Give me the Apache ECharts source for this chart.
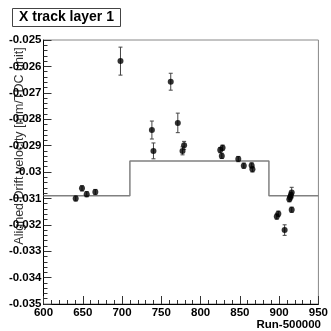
<!DOCTYPE html>
<html>
<head>
<meta charset="utf-8">
<script src="https://cdn.jsdelivr.net/npm/echarts@6/dist/echarts.min.js"></script>
<style>
  html, body { margin: 0; padding: 0; background: #fff; }
  #chart { width: 331px; height: 331px; }
</style>
</head>
<body>
<div id="chart"></div>
<script>
// run number minus 500000
const runs = [641, 649, 655, 666, 698, 738, 740, 762, 771, 777, 779, 825, 828, 827,
  848, 855, 865, 866, 897, 899, 907, 913, 914, 915, 916, 916];
const drift = [-0.03100, -0.03062, -0.03084, -0.03076, -0.02580, -0.02841, -0.02920,
  -0.02658, -0.02814, -0.02920, -0.02899, -0.02917, -0.02908, -0.02939, -0.02951,
  -0.02976, -0.02975, -0.02990, -0.03169, -0.03158, -0.03220, -0.03103, -0.03096,
  -0.03087, -0.03078, -0.03143];
const driftErr = [0.0001, 0.0001, 0.0001, 0.0001, 0.00053, 0.00034, 0.0003, 0.00032,
  0.00037, 0.00015, 0.00015, 0.0001, 0.0001, 0.0001, 0.0001, 0.0001, 0.0001, 0.0001,
  0.0001, 0.0001, 0.0002, 0.0001, 0.0001, 0.0001, 0.0002, 0.0001];

// step reference line
const stepEdges = [600, 710, 887, 950];
const stepLevels = [-0.0309, -0.02958, -0.0309, -0.0309];

const chart = echarts.init(document.getElementById('chart'));

const fmtY = v => String(parseFloat(v.toFixed(4)));

const option = {
  animation: false,
  grid: {
    left: 43.5, right: 10, top: 40, bottom: 27,
    show: true, borderColor: '#888', borderWidth: 1
  },
  xAxis: {
    type: 'value',
    min: 600, max: 950, interval: 50,
    axisLine: { show: true, lineStyle: { color: '#000', width: 1 } },
    axisTick: { show: true, inside: true, length: 8, lineStyle: { color: '#333' } },
    minorTick: { show: true, splitNumber: 5, length: 4, lineStyle: { color: '#333' } },
    splitLine: { show: false },
    axisLabel: {
      color: '#000', fontFamily: 'Liberation Sans', fontWeight: 'bold',
      fontSize: 11.5, margin: 3, showMinLabel: true, showMaxLabel: true
    }
  },
  yAxis: {
    type: 'value',
    min: -0.035, max: -0.025, interval: 0.001,
    axisLine: { show: true, lineStyle: { color: '#000', width: 1 } },
    axisTick: { show: true, inside: true, length: 8, lineStyle: { color: '#333' } },
    minorTick: { show: true, splitNumber: 5, length: 4, lineStyle: { color: '#333' } },
    splitLine: { show: false },
    axisLabel: {
      color: '#000', fontFamily: 'Liberation Sans', fontWeight: 'bold',
      fontSize: 11.5, margin: 2, formatter: fmtY
    }
  },
  series: [
    {
      type: 'line',
      step: 'end',
      data: stepEdges.map((x, i) => [x, stepLevels[i]]),
      symbol: 'none',
      lineStyle: { color: '#808080', width: 1.5 },
      z: 1
    },
    {
      type: 'custom',
      data: runs.map((r, i) => [r, drift[i] - driftErr[i], drift[i] + driftErr[i]]),
      renderItem: (params, api) => {
        const lo = api.coord([api.value(0), api.value(1)]);
        const hi = api.coord([api.value(0), api.value(2)]);
        const st = { stroke: '#444', lineWidth: 1 };
        return {
          type: 'group',
          children: [
            { type: 'line', shape: { x1: lo[0], y1: lo[1], x2: hi[0], y2: hi[1] }, style: st },
            { type: 'line', shape: { x1: lo[0] - 2, y1: lo[1], x2: lo[0] + 2, y2: lo[1] }, style: st },
            { type: 'line', shape: { x1: hi[0] - 2, y1: hi[1], x2: hi[0] + 2, y2: hi[1] }, style: st }
          ]
        };
      },
      z: 2
    },
    {
      type: 'scatter',
      data: runs.map((r, i) => [r, drift[i]]),
      symbol: 'circle',
      symbolSize: 6,
      itemStyle: { color: '#000' },
      z: 3
    }
  ],
  graphic: [
    {
      type: 'rect',
      shape: { x: 12.5, y: 8.5, width: 108, height: 18 },
      style: { fill: '#fff', stroke: '#444', lineWidth: 1 }
    },
    {
      type: 'text',
      x: 66.5, y: 17.5,
      style: {
        text: 'X track layer 1', fill: '#000',
        font: 'bold 14px "Liberation Sans"',
        align: 'center', verticalAlign: 'middle'
      }
    },
    {
      type: 'text',
      x: 20, y: 146,
      rotation: Math.PI / 2,
      style: {
        text: 'Aligned Drift velocity [mm/TDC unit]', fill: '#333',
        font: '12.5px "Liberation Sans"',
        align: 'center', verticalAlign: 'middle'
      }
    },
    {
      type: 'text',
      x: 321, y: 325,
      style: {
        text: 'Run-500000', fill: '#000',
        font: 'bold 11.5px "Liberation Sans"',
        align: 'right', verticalAlign: 'middle'
      }
    }
  ]
};

chart.setOption(option);
</script>
</body>
</html>
